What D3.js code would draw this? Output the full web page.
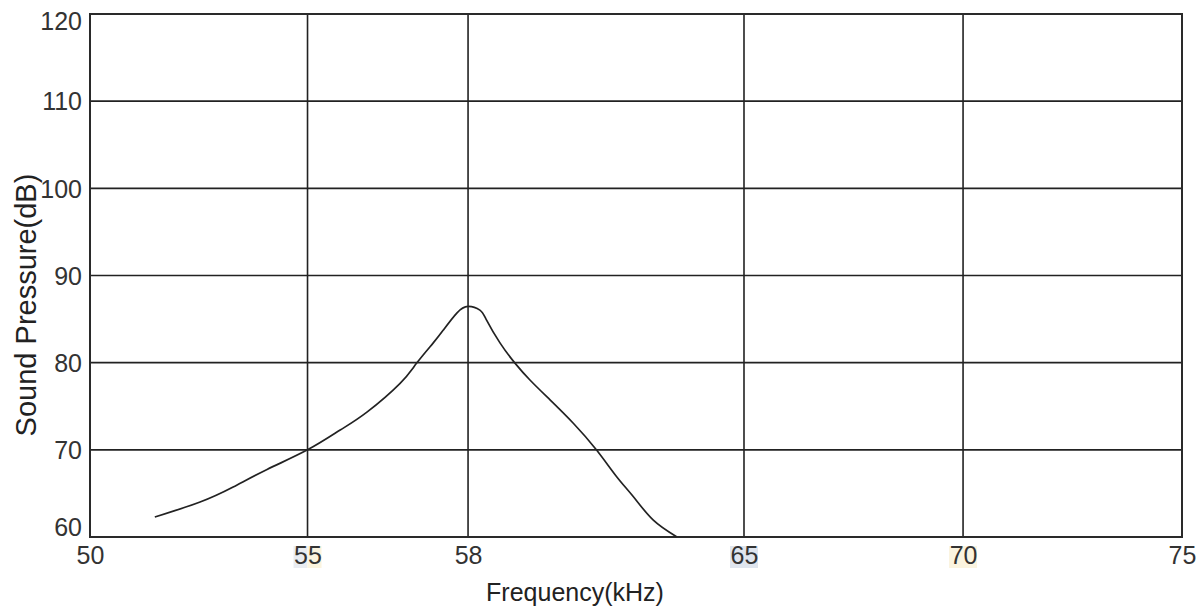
<!DOCTYPE html>
<html>
<head>
<meta charset="utf-8">
<script src="https://cdn.jsdelivr.net/npm/d3@7"></script>
<style>
  html, body { margin: 0; padding: 0; background: #fff; }
  svg { display: block; font-family: "Liberation Sans", Arial, sans-serif; }
</style>
</head>
<body>
<svg id="chart" width="1197" height="609"></svg>
<script>
// DATA
const xTicks = [50, 55, 58, 65, 70, 75];
const yTicks = [60, 70, 80, 90, 100, 110, 120];
const freq = [51.49, 52.53, 53.29, 54.07, 55.0, 55.61, 56.11, 56.73, 57.04, 57.35, 57.54, 57.79, 58.0,
              58.30, 58.47, 58.81, 59.19, 59.57, 60.08, 60.67, 61.26, 61.77, 62.19, 62.70, 63.29];
const spl  = [62.29, 64.01, 65.73, 67.75, 70.0, 72.27, 74.33, 77.63, 79.95, 82.27, 83.76, 85.69, 86.45,
              86.03, 84.89, 82.27, 79.95, 78.01, 75.73, 73.05, 69.98, 66.92, 64.64, 61.93, 60.03];

// GRAPH
function renderChart() {
    const svg = d3.select("#chart");
    svg.selectAll("*").remove();

    const margin = {top: 14, right: 15, bottom: 72, left: 90},
          width = +svg.attr("width") - margin.left - margin.right,
          height = +svg.attr("height") - margin.top - margin.bottom;

    const g = svg.append("g").attr("transform", `translate(${margin.left},${margin.top})`);

    // X scale: uneven spacing between ticks, so piecewise linear
    const xStops = [0, 0.1992, 0.3462, 0.5989, 0.7995, 1];
    const x = d3.scaleLinear()
        .domain(xTicks)
        .range(xStops.map(f => f * width));

    const y = d3.scaleLinear()
        .domain([60, 120])
        .range([height, 0]);

    // Grid
    g.append("g")
        .selectAll("line")
        .data(xTicks.slice(1, -1))
        .join("line")
        .attr("x1", d => x(d)).attr("x2", d => x(d))
        .attr("y1", 0).attr("y2", height)
        .attr("stroke", "#222")
        .attr("stroke-width", 1.6);

    g.append("g")
        .selectAll("line")
        .data(yTicks.slice(1, -1))
        .join("line")
        .attr("x1", 0).attr("x2", width)
        .attr("y1", d => y(d)).attr("y2", d => y(d))
        .attr("stroke", "#222")
        .attr("stroke-width", 1.6);

    // Frame
    g.append("rect")
        .attr("width", width)
        .attr("height", height)
        .attr("fill", "none")
        .attr("stroke", "#2a2a2a")
        .attr("stroke-width", 2);

    // Y axis labels
    const yAxis = d3.axisLeft(y).tickValues(yTicks).tickSize(0).tickPadding(8);
    const ya = g.append("g").call(yAxis);
    ya.select(".domain").remove();
    ya.selectAll("text")
        .attr("fill", "#333")
        .style("font-size", "25px")
        .attr("dy", d => d === 60 ? "-0.05em" : d === 120 ? "0.6em" : "0.35em");

    // X axis labels (with the faint highlight blocks seen in the source)
    const highlights = [
        {v: 55, parts: [{from: -0.5, to: 0, c: "#e9ecf1"}, {from: 0, to: 0.5, c: "#fbf4df"}]},
        {v: 65, parts: [{from: -0.5, to: 0.5, c: "#dfe5ee"}]},
        {v: 70, parts: [{from: -0.5, to: 0.5, c: "#fbf4df"}]}
    ];
    const labelW = 28;
    highlights.forEach(h => {
        h.parts.forEach(p => {
            g.append("rect")
                .attr("x", x(h.v) + p.from * labelW)
                .attr("y", height + 9)
                .attr("width", (p.to - p.from) * labelW)
                .attr("height", 22)
                .attr("fill", p.c);
        });
    });

    const xAxis = d3.axisBottom(x).tickValues(xTicks).tickSize(0).tickPadding(10);
    const xa = g.append("g").attr("transform", `translate(0,${height})`).call(xAxis);
    xa.select(".domain").remove();
    xa.selectAll("text")
        .attr("fill", "#333")
        .style("font-size", "25px")
        .attr("dy", "0.66em");

    // Curve
    const pts = freq.map((f, i) => ({f, s: spl[i]}));
    const line = d3.line()
        .x(d => x(d.f))
        .y(d => y(d.s))
        .curve(d3.curveNatural);

    g.append("path")
        .datum(pts)
        .attr("fill", "none")
        .attr("stroke", "#222")
        .attr("stroke-width", 1.7)
        .attr("d", line);

    // Axis titles
    svg.append("text")
        .attr("x", 575)
        .attr("y", 601)
        .attr("text-anchor", "middle")
        .attr("fill", "#222")
        .style("font-size", "25px")
        .text("Frequency(kHz)");

    svg.append("text")
        .attr("transform", "translate(36,305) rotate(-90)")
        .attr("text-anchor", "middle")
        .attr("fill", "#222")
        .style("font-size", "29px")
        .text("Sound Pressure(dB)");
}

renderChart();
</script>
</body>
</html>
